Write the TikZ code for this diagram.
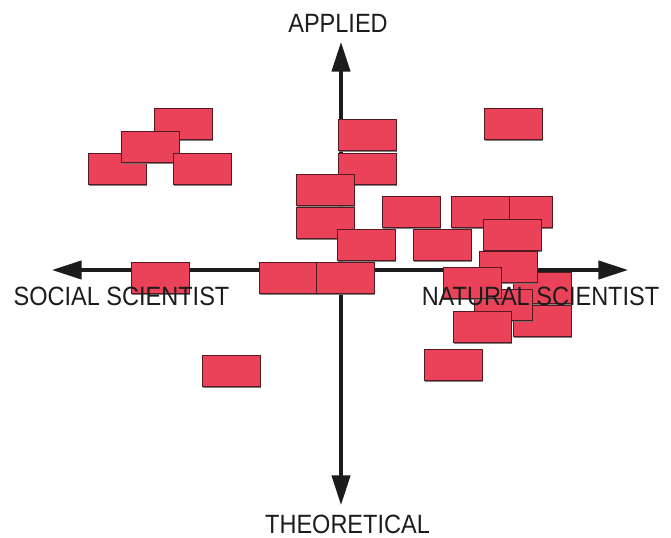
\documentclass[tikz,border=0pt]{standalone}
\usepackage{fontspec}
\setmainfont{Liberation Sans}
\usepackage{graphicx}
\usetikzlibrary{arrows.meta,shadows}

\definecolor{cardred}{RGB}{233,66,89}
\definecolor{cardedge}{RGB}{85,25,33}
\definecolor{inkgray}{RGB}{28,28,28}

\newcommand{\axislabel}[1]{\scalebox{.89}[1]{#1}}

\tikzset{
  card/.style={draw=cardedge, line width=1.2pt, fill=cardred, inner sep=0pt,
    minimum width=1.45cm, minimum height=.78cm,
    drop shadow={shadow xshift=.4pt, shadow yshift=-1.3pt, fill=black!55, opacity=.9}},
  axis/.style={draw=inkgray, line width=2.2pt,
    {Triangle[length=21pt,width=13pt]}-{Triangle[length=21pt,width=13pt]}},
  axistext/.style={text=inkgray, font=\fontsize{18.8}{20}\selectfont, inner sep=0pt}
}

\begin{document}
\begin{tikzpicture}[x=.025cm, y=-.025cm]
\useasboundingbox (0,0) rectangle (671,538);

% axes
\coordinate (west) at (52,270);
\coordinate (east) at (628,270);
\coordinate (north) at (341,42);
\coordinate (south) at (341,505);
\draw[axis] (west) -- (east);
\draw[axis] (south) -- (north);

% social, applied
\node[card] (s1) at (183.5,124) {};
\node[card] (s3) at (117.5,169) {};
\node[card] (s2) at (150.5,147) {};
\node[card] (s4) at (202.5,169) {};

% middle column
\node[card] (m1) at (367.5,135) {};
\node[card] (m2) at (367.5,169) {};
\node[card] (m3) at (325.5,190) {};
\node[card] (m4) at (325.5,223) {};
\node[card] (m5) at (366.5,245) {};
\node[card] (m6) at (411.5,212) {};
\node[card] (m7) at (288.5,278) {};
\node[card] (m8) at (345.5,278) {};

% social, theoretical
\node[card] (s5) at (160.5,278) {};
\node[card] (s6) at (231.5,371) {};

% natural
\node[card] (n1) at (513.5,124) {};
\node[card] (n2) at (523.5,212) {};
\node[card] (n3) at (480.5,212) {};
\node[card] (n4) at (512.5,235) {};
\node[card] (n5) at (442.5,245) {};
\node[card] (n6) at (542.5,321) {};
\node[card] (n7) at (542.5,288) {};
\node[card] (n8) at (508.5,267) {};
\node[card] (n9) at (503.5,305) {};
\node[card] (n10) at (472.5,283) {};
\node[card] (n11) at (482.5,327) {};
\node[card] (n12) at (453.5,365) {};

% labels
\node[axistext] (applied) at (338,23) {\axislabel{APPLIED}};
\node[axistext] (theoretical) at (347.5,524) {\axislabel{THEORETICAL}};
\node[axistext] (social) at (121.5,296) {\axislabel{SOCIAL SCIENTIST}};
\node[axistext] (natural) at (540.5,296) {\axislabel{NATURAL SCIENTIST}};
\end{tikzpicture}
\end{document}
